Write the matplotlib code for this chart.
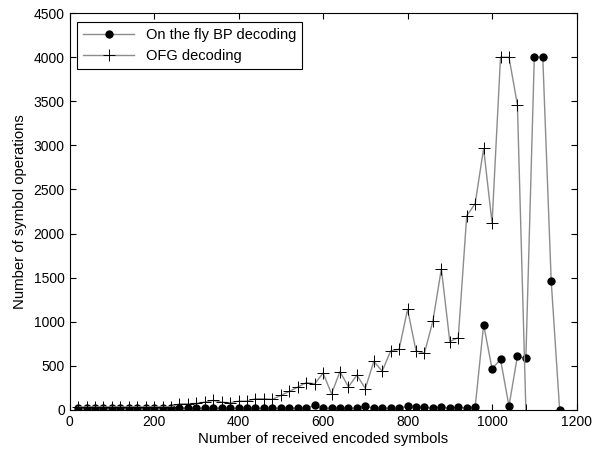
import numpy as np
import matplotlib
matplotlib.use("Agg")
import matplotlib.pyplot as plt

plt.rcParams['font.family'] = ['Liberation Sans', 'DejaVu Sans']

# On the fly BP decoding
bp_x = list(range(20, 1161, 20))
bp_y = [20, 20, 20, 20, 20, 20, 20, 20, 20, 20,
        20, 20, 20, 20, 20, 20, 20, 20, 20, 20,
        20, 20, 20, 20, 20, 20, 20, 20, 51, 20,
        20, 20, 20, 20, 45, 20, 20, 20, 20, 42,
        35, 30, 20, 30, 20, 35, 17, 32, 966, 467,
        573, 43, 610, 584, 4000, 4000, 1460, 0]

# OFG decoding
ofg_x = list(range(20, 1081, 20))
ofg_y = [35, 35, 35, 35, 35, 35, 35, 35, 35, 35,
         35, 35, 70, 70, 75, 89, 108, 89, 81, 100,
         100, 127, 127, 120, 164, 210, 259, 310, 296, 418,
         183, 435, 262, 395, 243, 550, 440, 670, 688, 1140,
         670, 646, 1010, 1600, 775, 820, 2200, 2340, 2965, 2120,
         4000, 4000, 3460, 0]

fig = plt.figure(figsize=(5.95, 4.5), dpi=100)
ax = fig.add_axes([0.117, 0.089, 0.852, 0.882])

ax.plot(bp_x, bp_y, color='#8c8c8c', linewidth=1, marker='o',
        markersize=5, markerfacecolor='black', markeredgecolor='black',
        label='On the fly BP decoding')
ax.plot(ofg_x, ofg_y, color='#8c8c8c', linewidth=1, marker='+',
        markersize=8, markeredgecolor='black', markeredgewidth=0.7,
        label='OFG decoding')

ax.set_xlim(0, 1200)
ax.set_ylim(0, 4500)
ax.set_xticks(np.arange(0, 1201, 200))
ax.set_yticks(np.arange(0, 4501, 500))
ax.tick_params(direction='in', top=True, right=True, length=4, labelsize=10)
ax.set_xlabel('Number of received encoded symbols', fontsize=10.7, labelpad=2)
ax.set_ylabel('Number of symbol operations', fontsize=10.7, labelpad=5)

leg = ax.legend(loc='upper left', bbox_to_anchor=(0.015, 0.978), borderaxespad=0,
                fancybox=False, edgecolor='black', fontsize=10.5, handlelength=3.5,
                framealpha=1)
leg.get_frame().set_linewidth(0.8)

plt.savefig('out.png', dpi=100)
